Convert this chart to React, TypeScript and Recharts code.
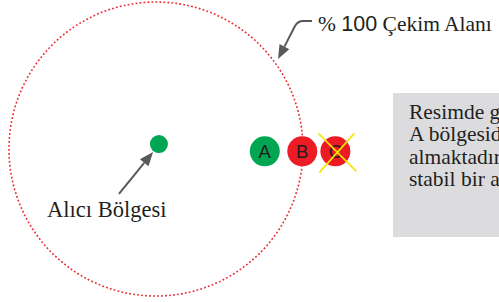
import React from "react";
import {
  ScatterChart,
  Scatter,
  XAxis,
  YAxis,
  ReferenceLine,
  ReferenceArea,
  ReferenceDot,
} from "recharts";

// Diagram in "field units": receiver field radius = 100 (% 100 çekim alanı)
const W = 499;
const H = 302;
const X_DOMAIN: [number, number] = [-106.1, 233.3];
const Y_DOMAIN: [number, number] = [-104.1, 101.4];
const PX = W / (X_DOMAIN[1] - X_DOMAIN[0]);

const FIELD_RADIUS = 100;
const fieldCenter = [{ x: 0, y: 0 }];
const receiver = [{ x: 2, y: 3.4 }];

// transmitters along the horizontal line, status: in / edge / out of field
const transmitters = [
  { x: 74, y: -1.6, name: "A", status: "in" },
  { x: 99.5, y: -1.6, name: "B", status: "edge" },
  { x: 122, y: -1.6, name: "C", status: "out" },
];

const callouts = [
  { text: "% 100 Çekim Alanı", tx: 110.2, ty: 80.5, fx: 106.1, fy: 87.1, ax: 83, ay: 61.2, bent: true },
  { text: "Alıcı Bölgesi", tx: -74.1, ty: -46.3, fx: -25.2, fy: -30.6, ax: -2, ay: -2, bent: false },
];

// note box runs off the right edge of the picture, only the visible part is kept
const noteBox = { x1: 161.2, x2: X_DOMAIN[1], y1: -59.9, y2: 38.1 };
const noteLines = ["Resimde g", "A bölgesid", "almaktadır", "stabil bir a"];

const SERIF = "'Liberation Serif', 'Times New Roman', serif";
const SANS = "'Liberation Sans', Arial, sans-serif";
const INK = "#231f20";
const ARROW = "#58595b";
const GREEN = "#00a651";
const RED = "#ed1c24";

const statusFill: Record<string, string> = { in: GREEN, edge: RED, out: RED };

function arrowHead(px: number, py: number, tx: number, ty: number) {
  const a = Math.atan2(ty - py, tx - px);
  const len = 14;
  const hw = 5.5;
  const bx = tx - len * Math.cos(a);
  const by = ty - len * Math.sin(a);
  const nx = -Math.sin(a) * hw;
  const ny = Math.cos(a) * hw;
  return {
    base: { x: bx, y: by },
    points: `${tx},${ty} ${bx + nx},${by + ny} ${bx - nx},${by - ny}`,
  };
}

function FieldShape(props: any) {
  const { cx, cy } = props;
  return (
    <circle
      cx={cx}
      cy={cy}
      r={FIELD_RADIUS * PX}
      fill="none"
      stroke="#ec2a32"
      strokeWidth={1.6}
      strokeDasharray="1.8 2.2"
    />
  );
}

function ReceiverShape(props: any) {
  return <circle cx={props.cx} cy={props.cy} r={9} fill={GREEN} />;
}

function TransmitterShape(props: any) {
  const { cx, cy, payload } = props;
  const r = 15;
  return (
    <g>
      <circle cx={cx} cy={cy} r={r} fill={statusFill[payload.status]} />
      <text
        x={cx}
        y={cy + 6.5}
        textAnchor="middle"
        fontFamily={SANS}
        fontSize={18.5}
        fill={INK}
      >
        {payload.name}
      </text>
      {payload.status === "out" && (
        <g stroke="#f7e600" strokeWidth={1.6}>
          <line x1={cx - 17} y1={cy - 18} x2={cx + 21} y2={cy + 20} />
          <line x1={cx + 19} y1={cy - 18} x2={cx - 16} y2={cy + 21} />
        </g>
      )}
    </g>
  );
}

function makeArrow(bent: boolean) {
  return (props: any) => {
    const { x1, y1, x2, y2 } = props;
    if (bent) {
      const ex = x1 - 17;
      const ey = y1 + 5;
      const h = arrowHead(ex, ey, x2, y2);
      return (
        <g>
          <path
            d={`M${x1},${y1} H${x1 - 9} Q${x1 - 14},${y1} ${ex},${ey} L${h.base.x},${h.base.y}`}
            fill="none"
            stroke={ARROW}
            strokeWidth={2}
          />
          <polygon points={h.points} fill={ARROW} />
        </g>
      );
    }
    const h = arrowHead(x1, y1, x2, y2);
    return (
      <g>
        <line x1={x1} y1={y1} x2={h.base.x} y2={h.base.y} stroke={ARROW} strokeWidth={2} />
        <polygon points={h.points} fill={ARROW} />
      </g>
    );
  };
}

function calloutText(text: string) {
  return (props: any) => {
    const { cx, cy } = props;
    if (text.startsWith("% 100")) {
      return (
        <text x={cx} y={cy} fontFamily={SERIF} fontSize={21.5} fill={INK}>
          <tspan>% </tspan>
          <tspan fontFamily={SANS}>100</tspan>
          <tspan>{text.slice(5)}</tspan>
        </text>
      );
    }
    return (
      <text x={cx} y={cy} fontFamily={SERIF} fontSize={22.5} fill={INK}>
        {text}
      </text>
    );
  };
}

function NoteContent(props: any) {
  const vb = props.viewBox || {};
  return (
    <text fontFamily={SERIF} fontSize={21.5} fill={INK}>
      {noteLines.map((line, i) => (
        <tspan key={i} x={vb.x + 16} y={vb.y + 25.5 + i * 22.6}>
          {line}
        </tspan>
      ))}
    </text>
  );
}

export default function App() {
  return (
    <div style={{ position: "absolute", left: 0, top: 0, width: W, height: H, overflow: "hidden", background: "#fff" }}>
      <ScatterChart width={W} height={H} margin={{ top: 0, right: 0, bottom: 0, left: 0 }}>
        <XAxis type="number" dataKey="x" domain={X_DOMAIN} allowDataOverflow hide />
        <YAxis type="number" dataKey="y" domain={Y_DOMAIN} allowDataOverflow hide width={0} />
        <ReferenceArea
          x1={noteBox.x1}
          x2={noteBox.x2}
          y1={noteBox.y1}
          y2={noteBox.y2}
          fill="#dcdcde"
          fillOpacity={1}
          stroke="none"
          ifOverflow="visible"
          label={NoteContent}
        />
        <Scatter data={fieldCenter} shape={FieldShape} isAnimationActive={false} />
        <Scatter data={receiver} shape={ReceiverShape} isAnimationActive={false} />
        <Scatter data={transmitters} shape={TransmitterShape} isAnimationActive={false} />
        {callouts.map((c) => (
          <ReferenceLine
            key={c.text + "-arrow"}
            segment={[
              { x: c.fx, y: c.fy },
              { x: c.ax, y: c.ay },
            ]}
            shape={makeArrow(c.bent)}
            ifOverflow="visible"
          />
        ))}
        {callouts.map((c) => (
          <ReferenceDot
            key={c.text + "-label"}
            x={c.tx}
            y={c.ty}
            r={0}
            shape={calloutText(c.text)}
            ifOverflow="visible"
          />
        ))}
      </ScatterChart>
    </div>
  );
}
